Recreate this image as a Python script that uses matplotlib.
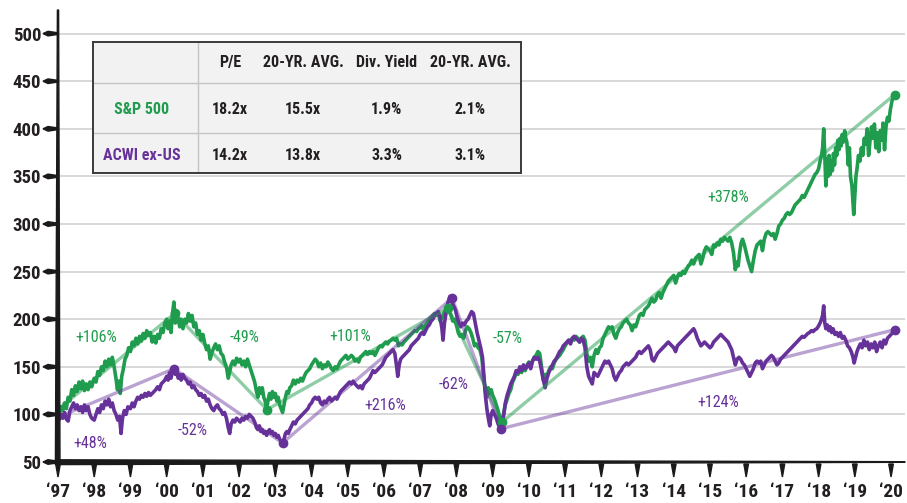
import numpy as np
import matplotlib
matplotlib.use('Agg')
import matplotlib.pyplot as plt
from matplotlib import font_manager
from matplotlib.patches import Polygon
from matplotlib.transforms import IdentityTransform

# pick a narrow face if one is installed
names = {f.name for f in font_manager.fontManager.ttflist}
FONT = 'DejaVu Sans'
for cand in ['Roboto Condensed', 'Liberation Sans Narrow', 'Open Sans Condensed', 'Noto Sans Condensed']:
    if cand in names:
        FONT = cand
        break
plt.rcParams['font.family'] = [FONT, 'DejaVu Sans']

GREEN = '#1f9c4d'
PURPLE = '#66329a'
DARK = '#231f20'

# ---- data (indexed, start of 1997 = 100) ----
sp500_points = [
    (1997.00, 105), (1997.04, 100), (1997.08, 108), (1997.13, 104), (1997.18, 112), (1997.23, 106),
    (1997.28, 118), (1997.33, 114), (1997.38, 126), (1997.43, 120), (1997.48, 130), (1997.53, 124),
    (1997.58, 134), (1997.63, 127), (1997.68, 135), (1997.73, 125), (1997.78, 132), (1997.83, 126),
    (1997.88, 134), (1997.93, 129), (1998.00, 138), (1998.05, 134), (1998.10, 145), (1998.15, 141),
    (1998.20, 150), (1998.25, 146), (1998.30, 156), (1998.35, 150), (1998.40, 158), (1998.45, 152),
    (1998.50, 160), (1998.55, 150), (1998.60, 138), (1998.64, 126), (1998.68, 135), (1998.72, 122),
    (1998.76, 140), (1998.80, 147), (1998.85, 158), (1998.90, 162), (1998.95, 170), (1999.00, 166),
    (1999.05, 176), (1999.10, 172), (1999.15, 180), (1999.20, 174), (1999.25, 182), (1999.30, 177),
    (1999.35, 185), (1999.40, 180), (1999.45, 188), (1999.50, 183), (1999.55, 186), (1999.60, 176),
    (1999.65, 182), (1999.70, 175), (1999.75, 184), (1999.80, 180), (1999.85, 190), (1999.90, 186),
    (1999.95, 196), (2000.00, 200), (2000.04, 190), (2000.08, 198), (2000.12, 186), (2000.16, 205),
    (2000.20, 218), (2000.24, 196), (2000.28, 206), (2000.32, 200), (2000.36, 192), (2000.40, 200),
    (2000.45, 190), (2000.50, 200), (2000.55, 196), (2000.60, 206), (2000.65, 198), (2000.70, 204),
    (2000.75, 192), (2000.80, 196), (2000.85, 184), (2000.90, 188), (2000.95, 178), (2001.00, 184),
    (2001.05, 175), (2001.10, 168), (2001.15, 172), (2001.20, 158), (2001.25, 165), (2001.30, 170),
    (2001.35, 174), (2001.40, 168), (2001.45, 172), (2001.50, 164), (2001.55, 162), (2001.60, 155),
    (2001.65, 150), (2001.70, 138), (2001.74, 145), (2001.78, 152), (2001.83, 156), (2001.88, 152),
    (2001.93, 159), (2001.98, 155), (2002.03, 158), (2002.08, 152), (2002.13, 156), (2002.18, 150),
    (2002.23, 158), (2002.28, 152), (2002.33, 146), (2002.38, 140), (2002.43, 134), (2002.48, 124),
    (2002.52, 118), (2002.56, 128), (2002.60, 122), (2002.64, 128), (2002.68, 118), (2002.72, 114),
    (2002.76, 105), (2002.80, 115), (2002.84, 122), (2002.88, 116), (2002.92, 124), (2002.96, 118),
    (2003.00, 122), (2003.04, 114), (2003.08, 118), (2003.12, 110), (2003.16, 106), (2003.20, 102),
    (2003.24, 110), (2003.28, 118), (2003.32, 124), (2003.36, 122), (2003.40, 128), (2003.45, 130),
    (2003.50, 136), (2003.55, 132), (2003.60, 136), (2003.65, 134), (2003.70, 138), (2003.75, 135),
    (2003.80, 140), (2003.85, 144), (2003.90, 146), (2003.95, 148), (2004.00, 152), (2004.05, 155),
    (2004.10, 158), (2004.15, 156), (2004.20, 150), (2004.25, 154), (2004.30, 148), (2004.35, 152),
    (2004.40, 150), (2004.45, 155), (2004.50, 152), (2004.55, 148), (2004.60, 146), (2004.65, 150),
    (2004.70, 148), (2004.75, 152), (2004.80, 156), (2004.85, 158), (2004.90, 160), (2004.95, 162),
    (2005.00, 158), (2005.05, 160), (2005.10, 162), (2005.15, 160), (2005.20, 156), (2005.25, 158),
    (2005.30, 155), (2005.35, 160), (2005.40, 162), (2005.45, 164), (2005.50, 166), (2005.55, 163),
    (2005.60, 166), (2005.65, 164), (2005.70, 166), (2005.75, 162), (2005.80, 166), (2005.85, 170),
    (2005.90, 172), (2005.95, 171), (2006.00, 174), (2006.05, 176), (2006.10, 174), (2006.15, 177),
    (2006.20, 178), (2006.25, 180), (2006.30, 178), (2006.35, 180), (2006.40, 172), (2006.45, 174),
    (2006.50, 173), (2006.55, 176), (2006.60, 178), (2006.65, 180), (2006.70, 182), (2006.75, 184),
    (2006.80, 186), (2006.85, 188), (2006.90, 187), (2006.95, 190), (2007.00, 191), (2007.05, 193),
    (2007.10, 188), (2007.15, 194), (2007.20, 196), (2007.25, 199), (2007.30, 202), (2007.35, 204),
    (2007.40, 206), (2007.45, 204), (2007.50, 206), (2007.55, 198), (2007.60, 202), (2007.65, 206),
    (2007.70, 210), (2007.75, 213), (2007.80, 208), (2007.85, 204), (2007.90, 198), (2007.95, 200),
    (2008.00, 194), (2008.05, 186), (2008.10, 182), (2008.15, 184), (2008.20, 180), (2008.25, 188),
    (2008.30, 192), (2008.35, 190), (2008.40, 186), (2008.45, 180), (2008.50, 172), (2008.55, 174),
    (2008.60, 170), (2008.65, 168), (2008.70, 160), (2008.75, 140), (2008.80, 124), (2008.84, 118),
    (2008.88, 128), (2008.92, 122), (2008.96, 126), (2009.00, 120), (2009.05, 116), (2009.10, 110),
    (2009.15, 104), (2009.20, 96), (2009.25, 93), (2009.30, 100), (2009.35, 110), (2009.40, 116),
    (2009.45, 122), (2009.50, 126), (2009.55, 134), (2009.60, 138), (2009.65, 144), (2009.70, 142),
    (2009.75, 148), (2009.80, 144), (2009.85, 150), (2009.90, 146), (2009.95, 152), (2010.00, 155),
    (2010.05, 150), (2010.10, 156), (2010.15, 160), (2010.20, 162), (2010.25, 166), (2010.30, 164),
    (2010.35, 150), (2010.40, 136), (2010.45, 142), (2010.50, 140), (2010.55, 146), (2010.60, 150),
    (2010.65, 148), (2010.70, 154), (2010.75, 158), (2010.80, 160), (2010.85, 162), (2010.90, 165),
    (2010.95, 168), (2011.00, 172), (2011.05, 175), (2011.10, 178), (2011.15, 176), (2011.20, 180),
    (2011.25, 178), (2011.30, 182), (2011.35, 180), (2011.40, 176), (2011.45, 180), (2011.50, 182),
    (2011.55, 178), (2011.60, 164), (2011.65, 156), (2011.70, 160), (2011.75, 150), (2011.80, 162),
    (2011.85, 168), (2011.90, 164), (2011.95, 170), (2012.00, 172), (2012.05, 180), (2012.10, 184),
    (2012.15, 188), (2012.20, 192), (2012.25, 190), (2012.30, 192), (2012.35, 184), (2012.40, 180),
    (2012.45, 186), (2012.50, 190), (2012.55, 192), (2012.60, 196), (2012.65, 198), (2012.70, 200),
    (2012.75, 196), (2012.80, 194), (2012.85, 188), (2012.90, 194), (2012.95, 192), (2013.00, 198),
    (2013.05, 204), (2013.10, 206), (2013.15, 204), (2013.20, 210), (2013.25, 212), (2013.30, 214),
    (2013.35, 218), (2013.40, 222), (2013.45, 218), (2013.50, 220), (2013.55, 226), (2013.60, 228),
    (2013.65, 222), (2013.70, 228), (2013.75, 232), (2013.80, 236), (2013.85, 240), (2013.90, 242),
    (2013.95, 244), (2014.00, 246), (2014.05, 238), (2014.10, 244), (2014.15, 248), (2014.20, 246),
    (2014.25, 250), (2014.30, 248), (2014.35, 252), (2014.40, 256), (2014.45, 258), (2014.50, 262),
    (2014.55, 258), (2014.60, 264), (2014.65, 266), (2014.70, 268), (2014.75, 258), (2014.80, 264),
    (2014.85, 272), (2014.90, 276), (2014.95, 274), (2015.00, 272), (2015.05, 268), (2015.10, 278),
    (2015.15, 276), (2015.20, 280), (2015.25, 278), (2015.30, 284), (2015.35, 282), (2015.40, 286),
    (2015.45, 284), (2015.50, 282), (2015.55, 286), (2015.60, 280), (2015.65, 270), (2015.70, 252),
    (2015.74, 260), (2015.78, 256), (2015.82, 270), (2015.86, 280), (2015.90, 284), (2015.95, 278),
    (2016.00, 270), (2016.05, 262), (2016.10, 256), (2016.15, 250), (2016.20, 262), (2016.25, 272),
    (2016.30, 278), (2016.35, 280), (2016.40, 282), (2016.45, 272), (2016.50, 284), (2016.55, 290),
    (2016.60, 292), (2016.65, 290), (2016.70, 288), (2016.75, 290), (2016.80, 284), (2016.85, 290),
    (2016.90, 298), (2016.95, 300), (2017.00, 304), (2017.05, 306), (2017.10, 310), (2017.15, 312),
    (2017.20, 310), (2017.25, 312), (2017.30, 316), (2017.35, 320), (2017.40, 322), (2017.45, 324),
    (2017.50, 326), (2017.55, 330), (2017.60, 328), (2017.65, 332), (2017.70, 336), (2017.75, 340),
    (2017.80, 344), (2017.85, 348), (2017.90, 352), (2017.95, 354), (2018.00, 358), (2018.04, 366),
    (2018.08, 372), (2018.11, 380), (2018.14, 400), (2018.17, 372), (2018.20, 340), (2018.23, 368),
    (2018.26, 350), (2018.29, 372), (2018.32, 352), (2018.35, 366), (2018.38, 356), (2018.41, 374),
    (2018.44, 362), (2018.47, 380), (2018.50, 372), (2018.53, 388), (2018.56, 378), (2018.59, 390),
    (2018.62, 382), (2018.65, 394), (2018.68, 386), (2018.72, 398), (2018.75, 390), (2018.78, 386),
    (2018.82, 362), (2018.85, 380), (2018.88, 350), (2018.92, 340), (2018.97, 310), (2019.00, 330),
    (2019.03, 350), (2019.06, 358), (2019.10, 372), (2019.14, 366), (2019.18, 380), (2019.22, 372),
    (2019.26, 390), (2019.30, 384), (2019.34, 400), (2019.38, 372), (2019.42, 388), (2019.46, 402),
    (2019.50, 390), (2019.54, 405), (2019.58, 380), (2019.62, 396), (2019.66, 376), (2019.70, 398),
    (2019.74, 388), (2019.78, 406), (2019.82, 378), (2019.86, 402), (2019.90, 412), (2019.94, 408),
    (2019.98, 420), (2020.03, 430), (2020.10, 436),
]

acwi_points = [
    (1997.00, 98), (1997.04, 95), (1997.08, 100), (1997.13, 96), (1997.18, 102), (1997.23, 95),
    (1997.28, 93), (1997.33, 104), (1997.38, 108), (1997.43, 112), (1997.48, 106), (1997.53, 110),
    (1997.58, 104), (1997.63, 108), (1997.68, 102), (1997.73, 110), (1997.78, 104), (1997.83, 108),
    (1997.88, 100), (1997.93, 96), (1998.00, 94), (1998.05, 100), (1998.10, 106), (1998.15, 102),
    (1998.20, 110), (1998.25, 106), (1998.30, 114), (1998.35, 110), (1998.40, 116), (1998.45, 108),
    (1998.50, 112), (1998.55, 104), (1998.60, 100), (1998.65, 94), (1998.70, 98), (1998.74, 80),
    (1998.78, 96), (1998.83, 104), (1998.88, 100), (1998.93, 108), (1999.00, 106), (1999.05, 112),
    (1999.10, 108), (1999.15, 114), (1999.20, 118), (1999.25, 116), (1999.30, 120), (1999.35, 118),
    (1999.40, 122), (1999.45, 119), (1999.50, 123), (1999.55, 120), (1999.60, 122), (1999.65, 124),
    (1999.70, 126), (1999.75, 129), (1999.80, 126), (1999.85, 132), (1999.90, 134), (1999.95, 136),
    (2000.00, 140), (2000.04, 136), (2000.08, 144), (2000.12, 138), (2000.16, 146), (2000.20, 150),
    (2000.24, 142), (2000.28, 146), (2000.32, 138), (2000.36, 142), (2000.40, 136), (2000.45, 142),
    (2000.50, 138), (2000.55, 136), (2000.60, 132), (2000.65, 134), (2000.70, 128), (2000.75, 130),
    (2000.80, 126), (2000.85, 124), (2000.90, 120), (2000.95, 122), (2001.00, 118), (2001.05, 120),
    (2001.10, 114), (2001.15, 116), (2001.20, 110), (2001.25, 106), (2001.30, 104), (2001.35, 108),
    (2001.40, 110), (2001.45, 106), (2001.50, 104), (2001.55, 100), (2001.60, 102), (2001.65, 96),
    (2001.70, 86), (2001.74, 80), (2001.78, 90), (2001.83, 94), (2001.88, 92), (2001.93, 96),
    (2001.98, 94), (2002.03, 92), (2002.08, 96), (2002.13, 94), (2002.18, 98), (2002.23, 96),
    (2002.28, 100), (2002.33, 98), (2002.38, 96), (2002.43, 92), (2002.48, 86), (2002.52, 84),
    (2002.56, 88), (2002.60, 82), (2002.64, 84), (2002.68, 80), (2002.72, 82), (2002.76, 78),
    (2002.80, 82), (2002.84, 84), (2002.88, 80), (2002.92, 82), (2002.96, 78), (2003.00, 80),
    (2003.04, 76), (2003.08, 78), (2003.12, 74), (2003.16, 72), (2003.20, 70), (2003.24, 74),
    (2003.28, 80), (2003.32, 82), (2003.36, 80), (2003.40, 84), (2003.45, 88), (2003.50, 92),
    (2003.55, 90), (2003.60, 94), (2003.65, 96), (2003.70, 98), (2003.75, 100), (2003.80, 102),
    (2003.85, 104), (2003.90, 106), (2003.95, 110), (2004.00, 112), (2004.05, 116), (2004.10, 118),
    (2004.15, 116), (2004.20, 118), (2004.25, 112), (2004.30, 110), (2004.35, 114), (2004.40, 112),
    (2004.45, 116), (2004.50, 118), (2004.55, 114), (2004.60, 116), (2004.65, 118), (2004.70, 116),
    (2004.75, 120), (2004.80, 124), (2004.85, 126), (2004.90, 128), (2004.95, 130), (2005.00, 132),
    (2005.05, 134), (2005.10, 132), (2005.15, 135), (2005.20, 132), (2005.25, 130), (2005.30, 128),
    (2005.35, 130), (2005.40, 127), (2005.45, 132), (2005.50, 134), (2005.55, 136), (2005.60, 138),
    (2005.65, 142), (2005.70, 146), (2005.75, 144), (2005.80, 146), (2005.85, 148), (2005.90, 150),
    (2005.95, 152), (2006.00, 156), (2006.05, 160), (2006.10, 162), (2006.15, 164), (2006.20, 166),
    (2006.25, 168), (2006.30, 164), (2006.35, 150), (2006.38, 140), (2006.42, 152), (2006.46, 158),
    (2006.50, 160), (2006.55, 162), (2006.60, 164), (2006.65, 166), (2006.70, 168), (2006.75, 172),
    (2006.80, 174), (2006.85, 176), (2006.90, 178), (2006.95, 180), (2007.00, 184), (2007.05, 186),
    (2007.10, 184), (2007.15, 188), (2007.20, 192), (2007.25, 194), (2007.30, 198), (2007.35, 200),
    (2007.40, 204), (2007.45, 206), (2007.50, 208), (2007.55, 202), (2007.60, 190), (2007.63, 178),
    (2007.67, 196), (2007.72, 208), (2007.77, 218), (2007.82, 224), (2007.87, 218), (2007.92, 214),
    (2007.97, 210), (2008.02, 202), (2008.07, 196), (2008.12, 192), (2008.17, 196), (2008.22, 194),
    (2008.27, 198), (2008.32, 200), (2008.37, 204), (2008.42, 208), (2008.47, 206), (2008.52, 196),
    (2008.57, 186), (2008.62, 178), (2008.67, 170), (2008.72, 160), (2008.76, 140), (2008.80, 120),
    (2008.84, 106), (2008.88, 96), (2008.92, 88), (2008.96, 100), (2009.00, 104), (2009.05, 100),
    (2009.10, 96), (2009.15, 90), (2009.20, 86), (2009.25, 85), (2009.30, 98), (2009.35, 112),
    (2009.40, 120), (2009.45, 126), (2009.50, 132), (2009.55, 136), (2009.60, 140), (2009.65, 146),
    (2009.70, 144), (2009.75, 150), (2009.80, 146), (2009.85, 152), (2009.90, 148), (2009.95, 150),
    (2010.00, 154), (2010.05, 148), (2010.10, 156), (2010.15, 160), (2010.20, 158), (2010.25, 160),
    (2010.30, 156), (2010.35, 146), (2010.40, 136), (2010.45, 128), (2010.50, 138), (2010.55, 144),
    (2010.60, 148), (2010.65, 152), (2010.70, 156), (2010.75, 158), (2010.80, 162), (2010.85, 166),
    (2010.90, 168), (2010.95, 172), (2011.00, 174), (2011.05, 176), (2011.10, 178), (2011.15, 174),
    (2011.20, 180), (2011.25, 182), (2011.30, 180), (2011.35, 178), (2011.40, 176), (2011.45, 180),
    (2011.50, 178), (2011.55, 170), (2011.60, 150), (2011.65, 140), (2011.70, 136), (2011.75, 132),
    (2011.80, 144), (2011.85, 142), (2011.90, 140), (2011.95, 144), (2012.00, 148), (2012.05, 152),
    (2012.10, 156), (2012.15, 154), (2012.20, 156), (2012.25, 152), (2012.30, 148), (2012.35, 140),
    (2012.40, 136), (2012.45, 140), (2012.50, 144), (2012.55, 146), (2012.60, 150), (2012.65, 152),
    (2012.70, 154), (2012.75, 152), (2012.80, 154), (2012.85, 156), (2012.90, 158), (2012.95, 160),
    (2013.00, 164), (2013.05, 166), (2013.10, 164), (2013.15, 166), (2013.20, 168), (2013.25, 170),
    (2013.30, 172), (2013.35, 168), (2013.40, 158), (2013.45, 156), (2013.50, 160), (2013.55, 164),
    (2013.60, 166), (2013.65, 168), (2013.70, 170), (2013.75, 172), (2013.80, 174), (2013.85, 176),
    (2013.90, 174), (2013.95, 172), (2014.00, 170), (2014.05, 166), (2014.10, 172), (2014.15, 174),
    (2014.20, 176), (2014.25, 178), (2014.30, 180), (2014.35, 182), (2014.40, 184), (2014.45, 186),
    (2014.50, 188), (2014.55, 190), (2014.60, 186), (2014.65, 180), (2014.70, 176), (2014.75, 172),
    (2014.80, 174), (2014.85, 176), (2014.90, 174), (2014.95, 172), (2015.00, 170), (2015.05, 172),
    (2015.10, 176), (2015.15, 178), (2015.20, 180), (2015.25, 182), (2015.30, 184), (2015.35, 182),
    (2015.40, 180), (2015.45, 178), (2015.50, 176), (2015.55, 172), (2015.60, 168), (2015.65, 160),
    (2015.70, 152), (2015.75, 158), (2015.80, 160), (2015.85, 158), (2015.90, 154), (2015.95, 152),
    (2016.00, 148), (2016.05, 144), (2016.10, 140), (2016.15, 144), (2016.20, 148), (2016.25, 154),
    (2016.30, 156), (2016.35, 154), (2016.40, 156), (2016.45, 148), (2016.50, 152), (2016.55, 156),
    (2016.60, 158), (2016.65, 160), (2016.70, 162), (2016.75, 160), (2016.80, 156), (2016.85, 152),
    (2016.90, 154), (2016.95, 158), (2017.00, 160), (2017.05, 162), (2017.10, 164), (2017.15, 166),
    (2017.20, 168), (2017.25, 170), (2017.30, 172), (2017.35, 174), (2017.40, 176), (2017.45, 178),
    (2017.50, 180), (2017.55, 182), (2017.60, 181), (2017.65, 183), (2017.70, 185), (2017.75, 186),
    (2017.80, 188), (2017.85, 187), (2017.90, 189), (2017.95, 190), (2018.00, 193), (2018.04, 196),
    (2018.08, 200), (2018.11, 204), (2018.14, 214), (2018.17, 196), (2018.20, 190), (2018.24, 194),
    (2018.28, 188), (2018.32, 192), (2018.36, 186), (2018.40, 190), (2018.45, 184), (2018.50, 186),
    (2018.55, 182), (2018.60, 186), (2018.65, 180), (2018.70, 182), (2018.75, 178), (2018.80, 172),
    (2018.85, 170), (2018.90, 166), (2018.95, 160), (2018.98, 154), (2019.02, 160), (2019.06, 166),
    (2019.10, 170), (2019.15, 174), (2019.20, 170), (2019.25, 178), (2019.30, 172), (2019.35, 176),
    (2019.40, 168), (2019.45, 174), (2019.50, 170), (2019.55, 176), (2019.60, 166), (2019.65, 172),
    (2019.70, 176), (2019.75, 170), (2019.80, 178), (2019.85, 174), (2019.90, 180), (2019.95, 182),
    (2020.00, 184), (2020.05, 186), (2020.10, 189),
]

# peak / trough trend lines
sp500_trend_years = [1997.0, 2000.22, 2002.77, 2007.77, 2009.26, 2020.10]
sp500_trend_vals = [105, 206, 105, 212, 92, 436]
acwi_trend_years = [1997.0, 2000.20, 2003.20, 2007.88, 2009.24, 2020.10]
acwi_trend_vals = [97, 148, 70, 222, 85, 189]

sp500_moves = ['+106%', '-49%', '+101%', '-57%', '+378%']
acwi_moves = ['+48%', '-52%', '+216%', '-62%', '+124%']

table_header = ['P/E', '20-YR. AVG.', 'Div. Yield', '20-YR. AVG.']
table_rows = ['S&P 500', 'ACWI ex-US']
sp500_stats = ['18.2x', '15.5x', '1.9%', '2.1%']
acwi_stats = ['14.2x', '13.8x', '3.3%', '3.1%']

year_ticks = list(range(1997, 2021))
year_labels = ['\u2018%02d' % (y % 100) for y in year_ticks]
value_ticks = list(range(50, 501, 50))

# ---- figure ----
W, H = 907, 503
fig = plt.figure(figsize=(W / 100, H / 100), dpi=100)
ax = fig.add_axes([58 / W, 41 / H, 847 / W, 452 / H])
ax.set_xlim(1997, 2020.385)
ax.set_ylim(50, 524.8)
for s in ax.spines.values():
    s.set_visible(False)

for v in value_ticks[1:]:
    ax.axhline(v, color='#d5d5d5', lw=1.3, zorder=0)

ax.set_yticks(value_ticks)
ax.set_yticklabels([str(v) for v in value_ticks], fontsize=13.5, fontweight='bold', color=DARK)
ax.tick_params(axis='y', length=0, pad=12)
ax.set_xticks(year_ticks)
ax.set_xticklabels(year_labels, fontsize=14, fontweight='bold', color=DARK)
ax.tick_params(axis='x', length=0, pad=15)

sp = np.array(sp500_points)
ac = np.array(acwi_points)
ax.plot(sp[:, 0], sp[:, 1], color=GREEN, lw=2.6, zorder=3)
ax.plot(ac[:, 0], ac[:, 1], color=PURPLE, lw=2.6, zorder=3)

ax.plot(sp500_trend_years, sp500_trend_vals, color=GREEN, alpha=0.5, lw=2.4, zorder=4,
        solid_capstyle='round')
ax.plot(acwi_trend_years, acwi_trend_vals, color=PURPLE, alpha=0.45, lw=2.4, zorder=4,
        solid_capstyle='round')
ax.plot(sp500_trend_years[1:], sp500_trend_vals[1:], 'o', color=GREEN, ms=6, zorder=5)
ax.plot(acwi_trend_years[1:], acwi_trend_vals[1:], 'o', color=PURPLE, ms=6, zorder=5)

# move labels (x, y in data units)
sp500_label_pos = [(1998.05, 181), (2002.14, 181), (2005.06, 182), (2009.40, 180), (2015.50, 328)]
acwi_label_pos = [(1997.88, 69), (2000.73, 83), (2006.03, 109), (2007.91, 131), (2015.22, 113)]
for txt, (x, y) in zip(sp500_moves, sp500_label_pos):
    ax.text(x, y, txt, color=GREEN, fontsize=11.5, ha='center', va='center', zorder=6)
for txt, (x, y) in zip(acwi_moves, acwi_label_pos):
    ax.text(x, y, txt, color=PURPLE, fontsize=11.5, ha='center', va='center', zorder=6)

# tapered spines and wedge ticks, in display pixels
ident = IdentityTransform()
fig.canvas.draw()
x0, y0 = ax.transData.transform((1997, 50))
x1, y1 = ax.transData.transform((2020.385, 524.8))
fig.add_artist(Polygon([(x0 - 2.6, y0 - 2.4), (x0 + 2.0, y0 - 2.4), (x0 + 0.6, y1), (x0 - 0.6, y1)],
                       closed=True, color='#1a1a1a', transform=ident, zorder=10))
fig.add_artist(Polygon([(x0 - 2.6, y0 - 2.6), (x0 - 2.6, y0 + 2.2), (x1, y0 + 0.3), (x1, y0 - 0.3)],
                       closed=True, color='#1a1a1a', transform=ident, zorder=10))
for v in value_ticks:
    yd = ax.transData.transform((1997, v))[1]
    fig.add_artist(Polygon([(x0 - 15, yd), (x0 - 10, yd + 2.3), (x0, yd + 0.8), (x0, yd - 0.8),
                            (x0 - 10, yd - 2.3)], closed=True, color='#1a1a1a',
                           transform=ident, zorder=10))
for yr in year_ticks:
    xd = ax.transData.transform((yr, 50))[0]
    fig.add_artist(Polygon([(xd - 2.3, y0 - 2), (xd + 2.3, y0 - 2), (xd, y0 - 15)], closed=True,
                           color='#1a1a1a', transform=ident, zorder=10))

# stats table
tax = fig.add_axes([93 / W, 1 - 173 / H, (521 - 93) / W, (173 - 42) / H])
tax.set_xlim(93, 521)
tax.set_ylim(173, 42)
tax.set_facecolor('#f2f2f2')
tax.set_xticks([])
tax.set_yticks([])
for s in tax.spines.values():
    s.set_color('#3a3a3a')
    s.set_linewidth(1.4)
tax.axvline(198, color='#c4c4c4', lw=1)
tax.axhline(83, color='#c4c4c4', lw=1)
tax.axhline(133, color='#c4c4c4', lw=1)
col_x = [230, 303, 387, 470]
for cx, h in zip(col_x, table_header):
    tax.text(cx, 62, h, ha='center', va='center', fontsize=11.5, fontweight='bold', color=DARK)
tax.text(142, 109, table_rows[0], ha='center', va='center', fontsize=11.5, fontweight='bold', color=GREEN)
tax.text(142, 155, table_rows[1], ha='center', va='center', fontsize=11.5, fontweight='bold', color=PURPLE)
for cx, a, b in zip(col_x, sp500_stats, acwi_stats):
    tax.text(cx, 109, a, ha='center', va='center', fontsize=11.5, fontweight='bold', color=DARK)
    tax.text(cx, 155, b, ha='center', va='center', fontsize=11.5, fontweight='bold', color=DARK)

fig.savefig('out.png', dpi=100)
